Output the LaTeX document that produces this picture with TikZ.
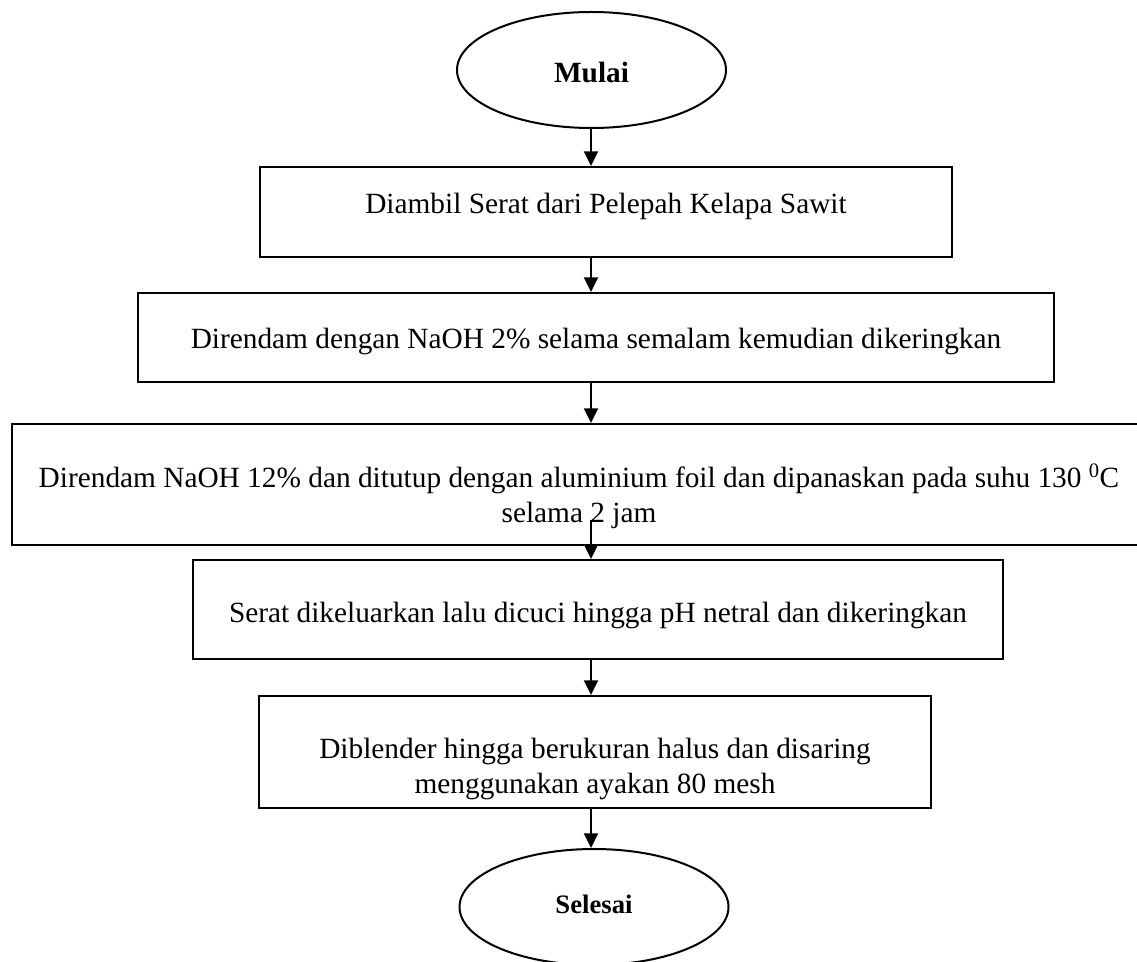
\documentclass[tikz,border=0pt]{standalone}
\usepackage{fontspec}
\setmainfont{Liberation Serif}
\usetikzlibrary{arrows.meta,shapes.geometric}
\newcommand{\oneline}[2]{\raisebox{#1}[0pt][0pt]{#2}}
\newcommand{\twolines}[3]{\raisebox{#1}[0pt][0pt]{\begin{tabular}[t]{@{}c@{}}#2\\#3\end{tabular}}}
\begin{document}
\begin{tikzpicture}[x=0.75pt,y=-0.75pt,
  procbox/.style={draw=black,line width=1.5pt,rectangle,inner sep=0pt,align=center,
    font=\fontsize{22}{26.25}\selectfont},
  term/.style={draw=black,line width=1.5pt,ellipse,inner sep=0pt,
    minimum width=201.75pt,minimum height=87pt},
  arr/.style={line width=1.7pt,-{Triangle[length=11pt,width=10.5pt]}}]
\useasboundingbox (0,0) rectangle (1137,962);
\clip (0,0) rectangle (1137,962);
\fill[white] (0,0) rectangle (1137,962);
\node[term,font=\bfseries\fontsize{22}{26}\selectfont] (mulai) at (591.5,70) {\oneline{-9.75pt}{Mulai}};
\node[procbox,minimum width=519pt,minimum height=67.5pt] (b1) at (606,212)
  {\oneline{-1.5pt}{Diambil Serat dari Pelepah Kelapa Sawit}};
\node[procbox,minimum width=687pt,minimum height=66.75pt] (b2) at (596,337.5)
  {\oneline{-8.6pt}{Direndam dengan NaOH 2\% selama semalam kemudian dikeringkan}};
\node[procbox,minimum width=850.5pt,minimum height=90.75pt] (b3) at (579,484.5)
  {\twolines{-1.9pt}{Direndam NaOH 12\% dan ditutup dengan aluminium foil dan dipanaskan pada suhu 130 \textsuperscript{0}C}{selama 2 jam}};
\node[procbox,minimum width=607.5pt,minimum height=74.25pt] (b4) at (598,609.5)
  {\oneline{-9.4pt}{Serat dikeluarkan lalu dicuci hingga pH netral dan dikeringkan}};
\node[procbox,minimum width=504pt,minimum height=84pt] (b5) at (595,752)
  {\twolines{-4.5pt}{Diblender hingga berukuran halus dan disaring}{menggunakan ayakan 80 mesh}};
\node[term,font=\bfseries\fontsize{20}{24}\selectfont] (selesai) at (594,907) {\oneline{-4.5pt}{Selesai}};
\coordinate (ax) at (591,0);
\coordinate (a3) at (591,520);
\draw[arr] (ax |- mulai.south) -- (ax |- b1.north);
\draw[arr] (ax |- b1.south) -- (ax |- b2.north);
\draw[arr] (ax |- b2.south) -- (ax |- b3.north);
\draw[arr] (a3) -- (ax |- b4.north);
\draw[arr] (ax |- b4.south) -- (ax |- b5.north);
\draw[arr] (ax |- b5.south) -- (ax |- selesai.north);
\end{tikzpicture}
\end{document}
